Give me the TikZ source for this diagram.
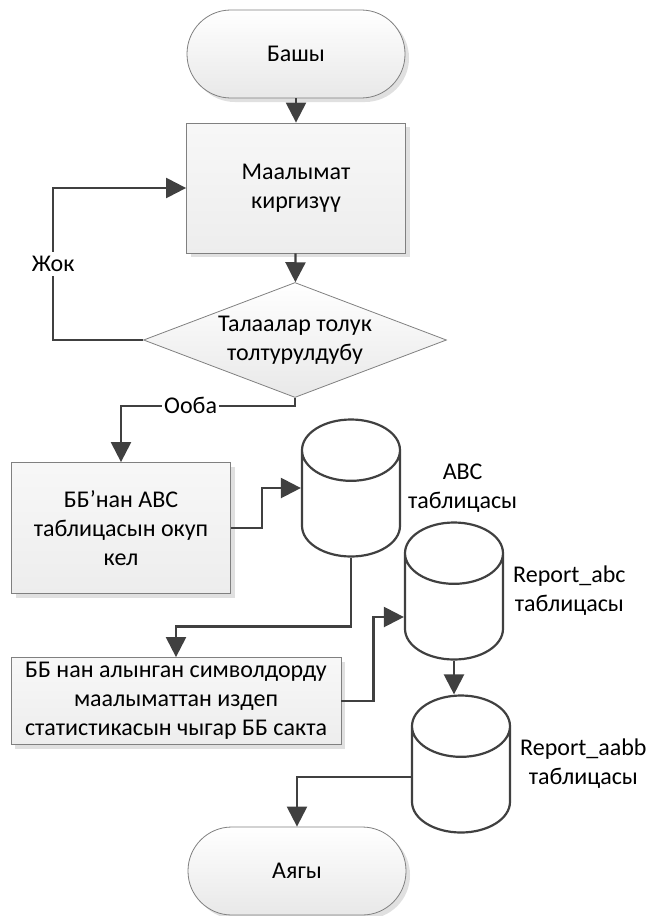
\documentclass[tikz,border=0pt]{standalone}
\usepackage{fontspec}
\setmainfont{Carlito}
\usetikzlibrary{arrows.meta,positioning,shapes.geometric,shadows,calc}

\begin{document}
\begin{tikzpicture}[
  x=0.5pt, y=-0.5pt,
  font=\fontsize{12}{14.6}\selectfont,
  term/.style={draw=black!50, rounded corners=21.9pt, minimum width=109pt, minimum height=44pt, top color=white, bottom color=black!9,
    drop shadow={shadow xshift=2pt, shadow yshift=-2pt, fill=black!12, opacity=1}},
  box/.style={draw=black!50, align=center, top color=black!3, bottom color=black!7,
    drop shadow={shadow xshift=2pt, shadow yshift=-2pt, fill=black!12, opacity=1}},
  decision/.style={diamond, draw=black!50, aspect=2.63, inner sep=0pt, align=center, minimum width=151.5pt, minimum height=57.5pt, top color=white, bottom color=black!9},
  dbtable/.style={cylinder, shape border rotate=90, aspect=4.6, anchor=shape center, draw=black!75, line width=1.1pt, fill=white, minimum width=49pt, minimum height=68.5pt},
  note/.style={align=center, anchor=west},
  arrow/.style={-{Triangle[length=10pt,width=10pt]}, line width=1.15pt, draw=black!75}
]
\useasboundingbox (0,0) rectangle (650,916);

\node[term] (start) at (296,54) {Башы};
\node[box, minimum width=109.5pt, minimum height=65pt] (input) at (296,188) {Маалымат\\киргизүү};
\node[decision] (check) at (295,340) {Талаалар толук\\толтурулдубу};
\node[box, minimum width=109.5pt, minimum height=65.5pt] (read) at (121,528) {ББ’нан ABC\\таблицасын окуп\\кел};
\node[dbtable] (abc) at (351,488) {};
\node[box, minimum width=165pt, minimum height=43.5pt, inner ysep=1pt] (stat) at (176,701) {ББ нан алынган символдорду\\маалыматтан издеп\\статистикасын чыгар ББ сакта};
\node[dbtable] (rabc) at (454,591) {};
\node[dbtable] (raabb) at (461,764) {};
\node[term] (stop) at (297,871) {Аягы};

\node[note] (abclbl) at (abc.east |- abc.shape center) {ABC\\таблицасы};
\node[note, xshift=1pt] (rabclbl) at (rabc.east |- rabc.shape center) {Report\_abc\\таблицасы};
\node[note, xshift=1pt] (raabblbl) at (raabb.east |- raabb.shape center) {Report\_aabb\\таблицасы};

\draw[arrow] (start) -- (input);
\draw[arrow] (input) -- (check);
\draw[arrow] (check.west) -- ++(-90,0) |- node[pos=0.25, fill=white, inner sep=2pt] {Жок} (input.west);
\draw[arrow] (check.south) -- ++(0,8) -| node[pos=0.3, fill=white, inner sep=1pt] {Ооба} (read.north);
\draw[arrow] (read.east) -- ++(31,0) |- (abc.west |- abc.shape center);
\draw[arrow] (abc.south) -- ++(0,69) -| (stat.north);
\draw[arrow] (stat.east) -- ++(32,0) |- ($(rabc.west |- rabc.shape center)+(0,26)$);
\draw[arrow] (rabc.south) -- (rabc.south |- raabb.north);
\draw[arrow] ($(raabb.west |- raabb.shape center)+(0,13)$) -| (stop.north);

\end{tikzpicture}
\end{document}
